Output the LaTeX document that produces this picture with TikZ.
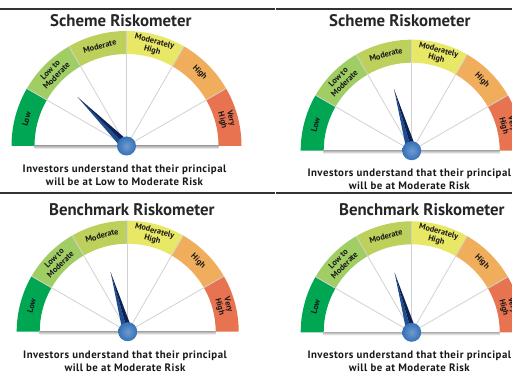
\documentclass[tikz,border=0pt]{standalone}
\usepackage{fontspec}
\setmainfont{PT Sans}
\definecolor{lowclr}{RGB}{0,166,81}
\definecolor{ltmclr}{RGB}{160,206,100}
\definecolor{modclr}{RGB}{190,208,92}
\definecolor{mhclr}{RGB}{232,232,102}
\definecolor{highclr}{RGB}{240,174,92}
\definecolor{vhclr}{RGB}{232,115,80}
\definecolor{needlelight}{RGB}{30,78,145}
\definecolor{needledark}{RGB}{14,34,82}
\definecolor{hubclr}{RGB}{52,112,184}
\tikzset{
  spoke/.style={draw=black!18, line width=0.8pt},
  bandlabel/.style={font=\bfseries\fontsize{8.3}{8.8}\selectfont, text=black!90, align=center, inner sep=0pt},
  gaugetitle/.style={font=\bfseries\fontsize{16.8}{17}\selectfont, text=black!85},
  caption/.style={font=\bfseries\fontsize{10.8}{12.6}\selectfont\addfontfeature{LetterSpace=4.5}, align=center, text=black!90},
  rule/.style={line width=1.5pt, draw=black!80}
}
% #1 outer radius, #2 needle angle, #3 needle length
\newcommand{\riskometer}[3]{%
  \pgfmathsetmacro{\rin}{#1-23}
  \pgfmathsetmacro{\rmid}{#1-11.5}
  \foreach \clr [count=\i] in {lowclr,ltmclr,modclr,mhclr,highclr,vhclr} {
    \pgfmathsetmacro{\aa}{180-30*(\i-1)}
    \pgfmathsetmacro{\ab}{\aa-30}
    \fill[\clr] (\aa:#1) arc[start angle=\aa, end angle=\ab, radius=#1]
      -- (\ab:\rin) arc[start angle=\ab, end angle=\aa, radius=\rin] -- cycle;
  }
  \foreach \a in {30,60,...,150}
    \draw[spoke] (0,0) -- (\a:#1);
  \shade[top color=black!30, bottom color=white] (-\rin,0) rectangle (\rin,-3);
  \node[bandlabel, rotate=75] (low) at (165:\rmid) {Low};
  \node[bandlabel, rotate=45] (ltm) at (135:\rmid) {Low to\\Moderate};
  \node[bandlabel, rotate=15] (mod) at (105:\rmid) {Moderate};
  \node[bandlabel, rotate=-15] (mh) at (75:\rmid) {Moderately\\High};
  \node[bandlabel, rotate=-45] (high) at (45:\rmid) {High};
  \node[bandlabel, rotate=-75] (vh) at (15:\rmid) {Very\\High};
  \fill[needlelight] (#2:#3) -- ({#2+90}:5) -- (0,0) -- cycle;
  \fill[needledark] (#2:#3) -- ({#2-90}:5) -- (0,0) -- cycle;
  \shade[inner color=hubclr!70!white, outer color=hubclr] (0,0) circle (9.5);
}

\begin{document}
\begin{tikzpicture}[x=1pt, y=1pt]
  \useasboundingbox (0,0) rectangle (512,372);
  \clip (0,0) rectangle (512,372);

  \draw[rule] (0,363) -- (274.5,363) (275.5,363) -- (512,363);
  \draw[rule] (0,179) -- (274.5,179) (275.5,179) -- (512,179);

  \begin{scope}[shift={(126.5,226)}, name prefix=tl-]
    \riskometer{115}{135}{69}
  \end{scope}
  \begin{scope}[shift={(411.7,221.3)}, name prefix=tr-]
    \riskometer{111}{106}{64}
  \end{scope}
  \begin{scope}[shift={(127.7,40.3)}, name prefix=bl-]
    \riskometer{111}{106}{62}
  \end{scope}
  \begin{scope}[shift={(411.7,39.7)}, name prefix=br-]
    \riskometer{111}{106}{62}
  \end{scope}

  \node[gaugetitle] (tl-title) at (120.8,351) {Scheme Riskometer};
  \node[gaugetitle] (tr-title) at (399.8,351) {Scheme Riskometer};
  \node[gaugetitle] (bl-title) at (131.8,162.7) {Benchmark Riskometer};
  \node[gaugetitle] (br-title) at (421.8,162.7) {Benchmark Riskometer};

  \node[caption] (tl-caption) at (124.5,196.5) {Investors understand that their principal\\will be at Low to Moderate Risk};
  \node[caption] (tr-caption) at (409.3,193) {Investors understand that their principal\\will be at Moderate Risk};
  \node[caption] (bl-caption) at (125,10.5) {Investors understand that their principal\\will be at Moderate Risk};
  \node[caption] (br-caption) at (409.3,10.5) {Investors understand that their principal\\will be at Moderate Risk};
\end{tikzpicture}
\end{document}
